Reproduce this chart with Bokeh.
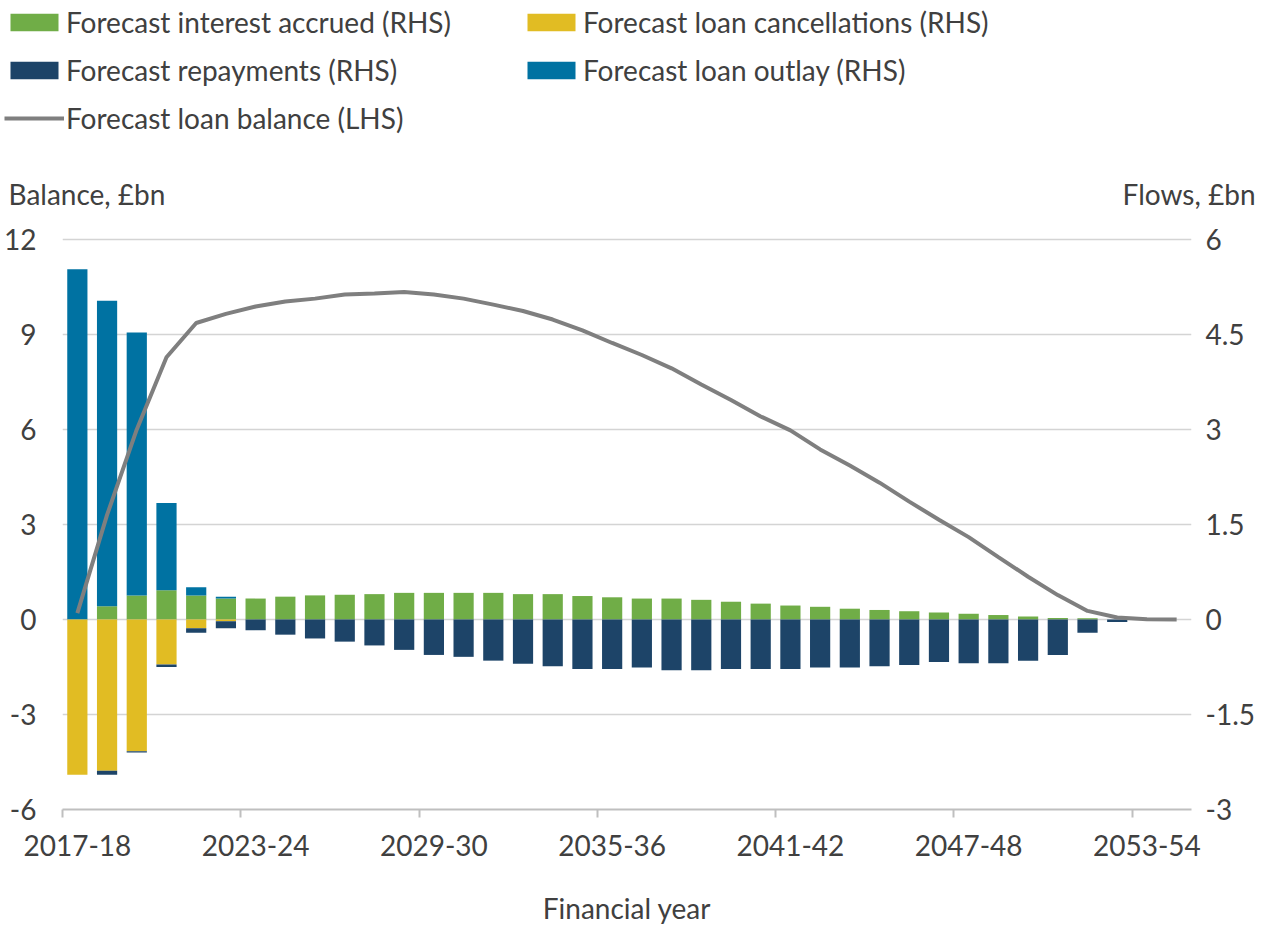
from bokeh.plotting import figure
from bokeh.models import (Range1d, LinearAxis, FixedTicker, Legend, LegendItem,
                          Label, ColumnDataSource, Grid)
from bokeh.embed import file_html
from bokeh.resources import INLINE

# ---------------- data ----------------
years = ["2017-18", "2018-19", "2019-20", "2020-21", "2021-22", "2022-23",
         "2023-24", "2024-25", "2025-26", "2026-27", "2027-28", "2028-29",
         "2029-30", "2030-31", "2031-32", "2032-33", "2033-34", "2034-35",
         "2035-36", "2036-37", "2037-38", "2038-39", "2039-40", "2040-41",
         "2041-42", "2042-43", "2043-44", "2044-45", "2045-46", "2046-47",
         "2047-48", "2048-49", "2049-50", "2050-51", "2051-52", "2052-53",
         "2053-54", "2054-55"]

# flows, £bn (RHS)
interest = [0.0, 0.21, 0.38, 0.46, 0.38, 0.33, 0.33, 0.36, 0.38, 0.39,
            0.40, 0.42, 0.42, 0.42, 0.42, 0.40, 0.40, 0.37, 0.35, 0.33,
            0.33, 0.31, 0.28, 0.25, 0.22, 0.20, 0.17, 0.15, 0.13, 0.11,
            0.09, 0.07, 0.045, 0.025, 0.02, 0.0, 0.0, 0.0]
outlay = [5.53, 4.82, 4.15, 1.38, 0.13, 0.03, 0.0, 0.0, 0.0, 0.0,
          0.0, 0.0, 0.0, 0.0, 0.0, 0.0, 0.0, 0.0, 0.0, 0.0,
          0.0, 0.0, 0.0, 0.0, 0.0, 0.0, 0.0, 0.0, 0.0, 0.0,
          0.0, 0.0, 0.0, 0.0, 0.0, 0.0, 0.0, 0.0]
cancellations = [-2.45, -2.39, -2.08, -0.71, -0.14, -0.03, 0.0, 0.0, 0.0, 0.0,
                 0.0, 0.0, 0.0, 0.0, 0.0, 0.0, 0.0, 0.0, 0.0, 0.0,
                 0.0, 0.0, 0.0, 0.0, 0.0, 0.0, 0.0, 0.0, 0.0, 0.0,
                 0.0, 0.0, 0.0, 0.0, 0.0, 0.0, 0.0, 0.0]
repayments = [0.0, -0.06, -0.02, -0.04, -0.07, -0.11, -0.17, -0.24, -0.30, -0.35,
              -0.41, -0.48, -0.56, -0.59, -0.65, -0.70, -0.74, -0.78, -0.78, -0.76,
              -0.80, -0.80, -0.78, -0.78, -0.78, -0.76, -0.76, -0.74, -0.72, -0.67,
              -0.69, -0.69, -0.65, -0.56, -0.21, -0.04, 0.0, 0.0]
# balance, £bn (LHS)
balance = [0.2, 3.3, 6.0, 8.28, 9.36, 9.65, 9.88, 10.04, 10.13, 10.26,
           10.29, 10.34, 10.26, 10.13, 9.94, 9.74, 9.47, 9.13, 8.73, 8.35,
           7.93, 7.42, 6.93, 6.41, 5.97, 5.37, 4.86, 4.32, 3.72, 3.15,
           2.6, 1.97, 1.35, 0.77, 0.27, 0.06, 0.01, 0.0]

lhs_ticks = [-6, -3, 0, 3, 6, 9, 12]
rhs_ticks = [-3, -1.5, 0, 1.5, 3, 4.5, 6]
rhs_labels = ["-3", "-1.5", "0", "1.5", "3", "4.5", "6"]
label_every = 6
series_labels = ["Forecast interest accrued (RHS)", "Forecast loan cancellations (RHS)",
                 "Forecast repayments (RHS)", "Forecast loan outlay (RHS)",
                 "Forecast loan balance (LHS)"]

# ---------------- style ----------------
FONT = "Lato"
TXT = "#404040"
GREEN = "#70AD47"
YELLOW = "#E1BC23"
NAVY = "#1D4468"
BLUE = "#0072A2"
GREY = "#7F7F7F"
GRID = "#D4D4D4"
AXIS = "#BFBFBF"
FS = "28px"

W = 1270
TOP_H = 215
MAIN_H = 927 - TOP_H
ML, MR, MT, MB = 62, 79, 22, 117
PAD = 0.06

n = len(years)
xs = list(range(n))
src = ColumnDataSource(dict(x=xs, interest=interest, outlay=outlay,
                            cancellations=cancellations, repayments=repayments,
                            balance=balance))

# ---------------- main chart ----------------
p = figure(width=W, height=MAIN_H, output_backend="svg", toolbar_location=None,
           x_range=Range1d(-0.5, n - 0.5),
           y_range=Range1d(lhs_ticks[0], lhs_ticks[-1] + PAD),
           x_axis_location=None, y_axis_location=None,
           min_border_left=ML, min_border_right=MR, min_border_top=MT,
           min_border_bottom=MB)
p.extra_y_ranges = {"rhs": Range1d(rhs_ticks[0], rhs_ticks[-1] + PAD / 2)}
p.outline_line_color = None
p.background_fill_color = "white"
p.border_fill_color = "white"
for g in p.grid:
    g.visible = False

p.add_layout(Grid(dimension=1, ticker=FixedTicker(ticks=lhs_ticks[1:]),
                  grid_line_color=GRID, grid_line_width=1.5))

yl = LinearAxis(ticker=FixedTicker(ticks=lhs_ticks),
                major_label_overrides={t: str(t) for t in lhs_ticks},
                axis_line_color=None, major_tick_line_color=None,
                major_tick_out=0, major_tick_in=0,
                minor_tick_line_color=None, major_label_standoff=26,
                major_label_text_font=FONT, major_label_text_font_size=FS,
                major_label_text_color=TXT)
p.add_layout(yl, "left")

yr = LinearAxis(y_range_name="rhs", ticker=FixedTicker(ticks=rhs_ticks),
                major_label_overrides=dict(zip(rhs_ticks, rhs_labels)),
                axis_line_color=None, major_tick_line_color=None,
                major_tick_out=0, major_tick_in=0,
                minor_tick_line_color=None, major_label_standoff=14,
                major_label_text_font=FONT, major_label_text_font_size=FS,
                major_label_text_color=TXT)
p.add_layout(yr, "right")

bounds = [i - 0.5 for i in range(0, n, label_every)]
xa1 = LinearAxis(ticker=FixedTicker(ticks=bounds),
                 major_label_overrides={b: " " for b in bounds},
                 axis_line_color=AXIS, axis_line_width=2,
                 major_tick_line_color=AXIS, major_tick_line_width=2,
                 major_tick_out=8, major_tick_in=0, minor_tick_line_color=None,
                 major_label_text_font_size="2px", major_label_standoff=0)
p.add_layout(xa1, "below")

centres = list(range(0, n, label_every))
xa2 = LinearAxis(ticker=FixedTicker(ticks=centres),
                 major_label_overrides={i: years[i] for i in centres},
                 axis_line_color=None, major_tick_line_color=None,
                 major_tick_out=0, major_tick_in=0,
                 minor_tick_line_color=None, major_label_standoff=12,
                 major_label_text_font=FONT, major_label_text_font_size=FS,
                 major_label_text_color=TXT,
                 axis_label="Financial year", axis_label_standoff=32,
                 axis_label_text_font=FONT, axis_label_text_font_size=FS,
                 axis_label_text_font_style="normal", axis_label_text_color=TXT)
p.add_layout(xa2, "below")

pos = p.vbar_stack(["interest", "outlay"], x="x", width=0.68, source=src,
                   color=[GREEN, BLUE], line_color=None, y_range_name="rhs")
neg = p.vbar_stack(["cancellations", "repayments"], x="x", width=0.68, source=src,
                   color=[YELLOW, NAVY], line_color=None, y_range_name="rhs")
ln = p.line("x", "balance", source=src, line_color=GREY, line_width=4)

# ---------------- header: legend + axis titles ----------------
top = figure(width=W, height=TOP_H, output_backend="svg", toolbar_location=None,
             x_range=Range1d(0, W), y_range=Range1d(0, TOP_H),
             x_axis_location=None, y_axis_location=None,
             min_border_left=0, min_border_right=0, min_border_top=0,
             min_border_bottom=0)
top.extra_y_ranges = {"off": Range1d(1000, 1001)}   # swatch renderers fall outside the view
top.outline_line_color = None
top.background_fill_color = "white"
top.border_fill_color = "white"
for g in top.grid:
    g.visible = False

s_pos = top.vbar_stack(["interest", "outlay"], x="x", width=0.68, source=src,
                       color=[GREEN, BLUE], line_color=None, y_range_name="off")
s_neg = top.vbar_stack(["cancellations", "repayments"], x="x", width=0.68,
                       source=src, color=[YELLOW, NAVY], line_color=None,
                       y_range_name="off")
s_ln = top.line("x", "balance", source=src, line_color=GREY, line_width=4,
                y_range_name="off")

legend = Legend(items=[LegendItem(label=t, renderers=[r]) for t, r in
                       zip(series_labels, [s_pos[0], s_neg[0], s_neg[1], s_pos[1], s_ln])],
                orientation="horizontal", ncols=2, location=(4, 80),
                label_text_font=FONT, label_text_font_size=FS,
                label_text_color=TXT, glyph_width=60, glyph_height=22,
                label_standoff=2, spacing=14, label_width=441, padding=0,
                margin=0, border_line_color=None, background_fill_alpha=0)
top.add_layout(legend)

top.add_layout(Label(x=8, y=TOP_H - 193, x_units="screen", y_units="screen",
                     text="Balance, £bn", text_align="left",
                     text_baseline="alphabetic", text_font=FONT,
                     text_font_size=FS, text_color=TXT))
top.add_layout(Label(x=1255, y=TOP_H - 193, x_units="screen", y_units="screen",
                     text="Flows, £bn", text_align="right",
                     text_baseline="alphabetic", text_font=FONT,
                     text_font_size=FS, text_color=TXT))

open("out.html", "w").write(file_html([top, p], INLINE))
